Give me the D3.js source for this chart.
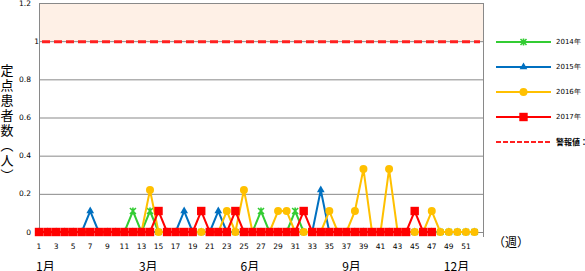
<!DOCTYPE html>
<html>
<head>
<meta charset="utf-8">
<script src="https://cdn.jsdelivr.net/npm/d3@7"></script>
<style>
  body { margin: 0; background: #fff; }
  svg { display: block; }
</style>
</head>
<body>
<svg id="chart" width="585" height="271"></svg>
<script>
// weeks 1..52 (axis runs to 53)
var xTickWeeks = d3.range(1, 52, 2);
var yTicks = [0, 0.2, 0.4, 0.6, 0.8, 1, 1.2];
var yTickLabels = ['0', '0.2', '0.4', '0.6', '0.8', '1', '1.2'];
var alarmValue = 1;

var monthLabels = ['1月', '3月', '6月', '9月', '12月'];
var monthWeeks = [1.75, 13.8, 25.7, 37.6, 49.9];

var titleChars = ['定', '点', '患', '者', '数', '︵', '人', '︶'];

var s2014 = [0, 0, 0, 0, 0, 0, 0, 0, 0, 0,
    0, 0.11, 0, 0.11, 0, 0, 0, 0, 0, 0,
    0, 0, 0, 0, 0, 0, 0.11, 0, 0, 0,
    0.11, 0, 0, 0, 0, 0, 0, 0, 0, 0,
    0, 0, 0, 0, 0, 0, 0, 0, 0, 0,
    0, 0];
var s2015 = [0, 0, 0, 0, 0, 0, 0.11, 0, 0, 0,
    0, 0, 0, 0, 0, 0, 0, 0.11, 0, 0,
    0, 0.11, 0, 0, 0, 0, 0, 0, 0, 0,
    0, 0, 0, 0.22, 0, 0, 0, 0, 0, 0,
    0, 0, 0, 0, 0, 0, 0, 0, 0, 0,
    0, 0];
var s2016 = [0, 0, 0, 0, 0, 0, 0, 0, 0, 0,
    0, 0, 0, 0.22, 0, 0, 0, 0, 0, 0,
    0, 0, 0.11, 0, 0.22, 0, 0, 0, 0.11, 0.11,
    0, 0, 0, 0, 0.11, 0, 0, 0.11, 0.33, 0,
    0, 0.33, 0, 0, 0, 0, 0.11, 0, 0, 0,
    0, 0];
var s2017 = [0, 0, 0, 0, 0, 0, 0, 0, 0, 0,
    0, 0, 0, 0, 0.11, 0, 0, 0, 0, 0.11,
    0, 0, 0, 0.11, 0, 0, 0, 0, 0, 0,
    0, 0.11, 0, 0, 0, 0, 0, 0, 0, 0,
    0, 0, 0, 0, 0.11, 0, 0];

var seriesNames = ['2014年', '2015年', '2016年', '2017年'];
var seriesValues = [s2014, s2015, s2016, s2017];
var seriesColors = ['#33cc33', '#0070c0', '#ffc000', '#ff0000'];
var seriesMarkers = ['star', 'triangle', 'circle', 'square'];
var alarmName = '警報値：1';

var svg = d3.select('#chart');
var tickFont = '"DejaVu Sans", sans-serif';
var cjkFont = '"Noto Sans CJK JP", sans-serif';

var x = d3.scaleLinear().domain([1, 53]).range([39, 483]);
var y = d3.scaleLinear().domain([0, 1.2]).range([232, 3]);

// alarm zone band
svg.append('rect')
    .attr('x', x(1))
    .attr('y', y(1.2))
    .attr('width', x(53) - x(1))
    .attr('height', y(alarmValue) - y(1.2))
    .attr('fill', '#fef0e6');

// gridlines
svg.append('g').selectAll('line')
    .data(yTicks.slice(1))
    .join('line')
    .attr('x1', x(1)).attr('x2', x(53))
    .attr('y1', function(d) { return y(d) + 0.5; })
    .attr('y2', function(d) { return y(d) + 0.5; })
    .attr('stroke', '#898989')
    .attr('stroke-width', 1);

// axes frame
svg.append('line')
    .attr('x1', x(1) + 0.5).attr('x2', x(1) + 0.5)
    .attr('y1', y(1.2)).attr('y2', y(0) + 1)
    .attr('stroke', '#898989');
svg.append('line')
    .attr('x1', x(53) + 0.5).attr('x2', x(53) + 0.5)
    .attr('y1', y(1.2)).attr('y2', y(0) + 5)
    .attr('stroke', '#898989');
svg.append('line')
    .attr('x1', x(1)).attr('x2', x(53))
    .attr('y1', y(0) + 0.5).attr('y2', y(0) + 0.5)
    .attr('stroke', '#898989');

// y tick labels
svg.append('g').selectAll('text')
    .data(yTicks)
    .join('text')
    .attr('x', function(d) { return d === 1 ? x(1) : 31; })
    .attr('y', function(d) { return y(d); })
    .attr('dy', '0.35em')
    .attr('text-anchor', 'end')
    .attr('font-family', tickFont)
    .attr('font-size', '7.5px')
    .attr('fill', '#000')
    .text(function(d, i) { return yTickLabels[i]; });

// x tick labels
svg.append('g').selectAll('text')
    .data(xTickWeeks)
    .join('text')
    .attr('x', function(d) { return x(d); })
    .attr('y', 249)
    .attr('text-anchor', 'middle')
    .attr('font-family', tickFont)
    .attr('font-size', '7.5px')
    .attr('fill', '#000')
    .text(function(d) { return d; });

// month labels
svg.append('g').selectAll('text')
    .data(monthLabels)
    .join('text')
    .attr('x', function(d, i) { return x(monthWeeks[i]); })
    .attr('y', 271)
    .attr('text-anchor', 'middle')
    .attr('font-family', cjkFont)
    .attr('font-size', '12px')
    .attr('fill', '#000')
    .text(function(d) { return d; });

svg.append('text')
    .attr('x', 493)
    .attr('y', 247)
    .attr('font-family', cjkFont)
    .attr('font-size', '12px')
    .attr('fill', '#000')
    .text('（週）');

// y title, stacked characters
svg.append('g').selectAll('text')
    .data(titleChars)
    .join('text')
    .attr('x', 7)
    .attr('y', function(d, i) { return 70 + i * 15; })
    .attr('dy', '0.38em')
    .attr('text-anchor', 'middle')
    .attr('font-family', cjkFont)
    .attr('font-size', '13px')
    .attr('fill', '#000')
    .text(function(d) { return d; });

// markers
var drawMarker = function(sel, type, color) {
    if (type === 'circle') {
        sel.append('circle').attr('r', 4).attr('fill', color);
    } else if (type === 'square') {
        sel.append('rect').attr('x', -4.2).attr('y', -4.2)
            .attr('width', 8.4).attr('height', 8.4).attr('fill', color);
    } else if (type === 'triangle') {
        sel.append('path').attr('d', d3.symbol(d3.symbolTriangle, 26)()).attr('fill', color);
    } else {
        sel.append('path')
            .attr('d', 'M-3,-3L3,3M-3,3L3,-3M0,-3.5L0,3.5')
            .attr('stroke', color).attr('stroke-width', 1.6).attr('fill', 'none');
    }
};

var line = d3.line()
    .x(function(d, i) { return x(i + 1); })
    .y(function(d) { return y(d); });

seriesValues.forEach(function(vals, k) {
    var g = svg.append('g');
    g.append('path')
        .datum(vals)
        .attr('fill', 'none')
        .attr('stroke', seriesColors[k])
        .attr('stroke-width', 2)
        .attr('stroke-linejoin', 'round')
        .attr('d', line);
    g.selectAll('g.m')
        .data(vals)
        .join('g')
        .attr('class', 'm')
        .attr('transform', function(d, i) { return 'translate(' + x(i + 1) + ',' + y(d) + ')'; })
        .each(function() { drawMarker(d3.select(this), seriesMarkers[k], seriesColors[k]); });
});

// alarm line
svg.append('line')
    .attr('x1', x(1) + 3).attr('x2', x(53) - 3)
    .attr('y1', y(alarmValue) + 0.5).attr('y2', y(alarmValue) + 0.5)
    .attr('stroke', '#ff2020')
    .attr('stroke-width', 3)
    .attr('stroke-dasharray', '8,4');

// legend
var legend = svg.append('g').attr('transform', 'translate(496,0)');
var legendY = [42, 67, 92, 117, 142];
seriesNames.forEach(function(name, k) {
    var row = legend.append('g').attr('transform', 'translate(0,' + legendY[k] + ')');
    row.append('line').attr('x1', 0).attr('x2', 55)
        .attr('stroke', seriesColors[k]).attr('stroke-width', 2);
    drawMarker(row.append('g').attr('transform', 'translate(27.5,0)'), seriesMarkers[k], seriesColors[k]);
    row.append('text').attr('x', 60).attr('dy', '0.35em')
        .attr('font-family', tickFont).attr('font-size', '7px').attr('fill', '#000')
        .text(name);
});
var alarmRow = legend.append('g').attr('transform', 'translate(0,' + legendY[4] + ')');
alarmRow.append('line').attr('x1', 0).attr('x2', 55)
    .attr('stroke', '#ff2020').attr('stroke-width', 2).attr('stroke-dasharray', '5,2');
alarmRow.append('text').attr('x', 60).attr('dy', '0.35em')
    .attr('font-family', cjkFont).attr('font-size', '8px').attr('font-weight', 'bold').attr('fill', '#000')
    .text(alarmName);
</script>
</body>
</html>
